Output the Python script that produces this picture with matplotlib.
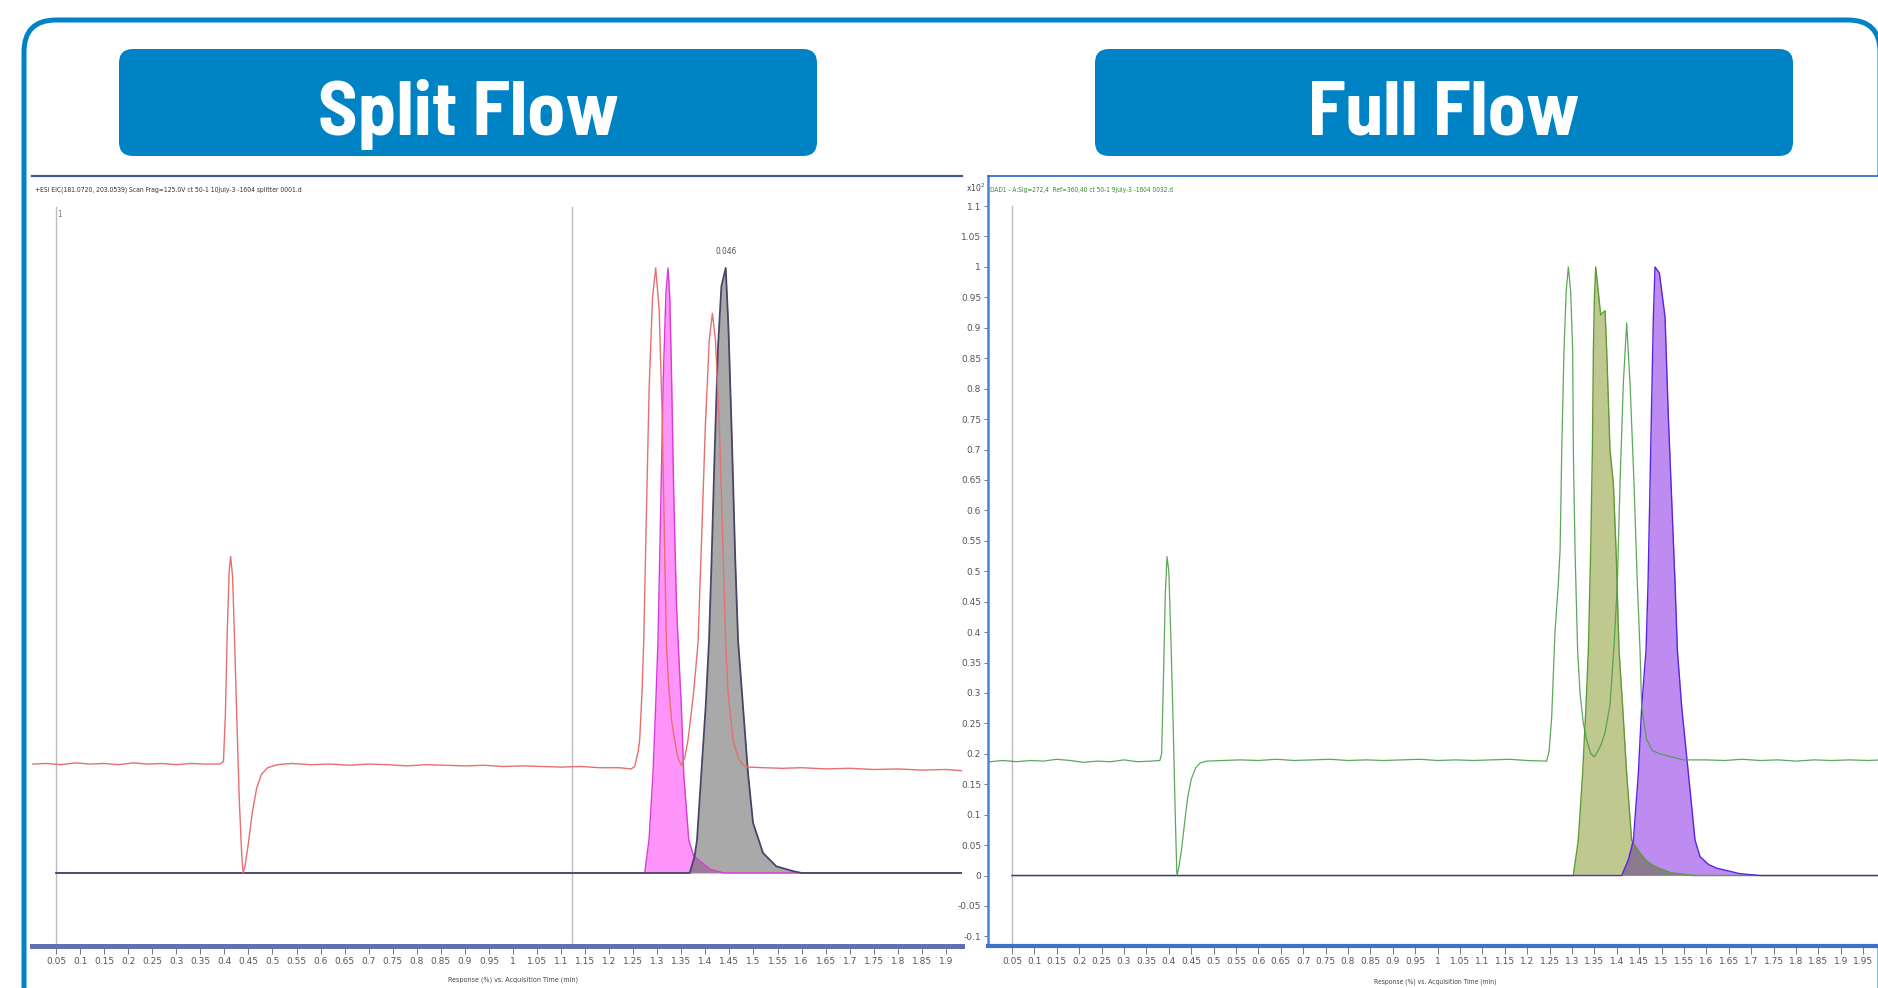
import matplotlib
matplotlib.use("Agg")
import numpy as np
import matplotlib.pyplot as plt
from matplotlib import font_manager
from matplotlib.font_manager import FontProperties
from matplotlib.textpath import TextPath
from matplotlib.patches import FancyBboxPatch
from matplotlib.ticker import FuncFormatter, FixedLocator

W, H = 1878, 988
BLUE = "#0083c4"

# —— 数据 —— #
TITLES = ["Split Flow", "Full Flow"]
LEFT_HEADER = "+ESI EIC(181.0720, 203.0539) Scan Frag=125.0V ct 50-1 10July-3 -1604 splitter 0001.d"
RIGHT_HEADER = "DAD1 - A:Sig=272,4  Ref=360,40 ct 50-1 9July-3 -1604 0032.d"
XLABEL = "Response (%) vs. Acquisition Time (min)"
PEAK_LABEL = "0.046"

# Split Flow: EIC trace (red)
RED_T = [0.0, 0.03, 0.06, 0.09, 0.12, 0.15, 0.18, 0.21, 0.24, 0.27, 0.30, 0.33, 0.36, 0.39,
         0.398, 0.402, 0.406, 0.410, 0.413, 0.417, 0.421, 0.426, 0.431, 0.436, 0.439, 0.443,
         0.450, 0.458, 0.467, 0.477, 0.490, 0.51, 0.54, 0.58, 0.62, 0.66, 0.70, 0.74, 0.78,
         0.82, 0.86, 0.90, 0.94, 0.98, 1.02, 1.06, 1.10, 1.14, 1.18, 1.22,
         1.2461, 1.2530, 1.2600, 1.2634, 1.2683, 1.2717, 1.2770, 1.2830, 1.2900, 1.2967,
         1.3040, 1.3100, 1.3150, 1.3189, 1.3244, 1.3300, 1.3362, 1.3430, 1.3500, 1.3570,
         1.3639, 1.3700, 1.3757, 1.3847, 1.3920, 1.4000, 1.4080, 1.4145, 1.4210, 1.4290,
         1.4360, 1.4422, 1.4470, 1.4574, 1.4680, 1.4782, 1.4900,
         1.52, 1.56, 1.60, 1.65, 1.70, 1.75, 1.80, 1.85, 1.90, 1.935]
RED_V = [0.180, 0.181, 0.179, 0.182, 0.180, 0.181, 0.179, 0.182, 0.180, 0.181, 0.179, 0.181, 0.180, 0.180,
         0.184, 0.26, 0.40, 0.50, 0.523, 0.49, 0.39, 0.25, 0.12, 0.03, 0.0, 0.012,
         0.05, 0.10, 0.14, 0.163, 0.174, 0.179, 0.181, 0.179, 0.180, 0.178, 0.180, 0.179, 0.177,
         0.179, 0.178, 0.177, 0.178, 0.176, 0.177, 0.176, 0.175, 0.176, 0.174, 0.174,
         0.172, 0.176, 0.20, 0.22, 0.30, 0.38, 0.58, 0.80, 0.95, 1.0,
         0.93, 0.76, 0.55, 0.38, 0.30, 0.25, 0.22, 0.19, 0.178, 0.19,
         0.22, 0.26, 0.30, 0.38, 0.55, 0.74, 0.88, 0.925, 0.88, 0.74,
         0.55, 0.38, 0.30, 0.22, 0.19, 0.178, 0.175,
         0.174, 0.173, 0.174, 0.172, 0.173, 0.171, 0.172, 0.170, 0.171, 0.169]

# Split Flow: filled peaks
PINK_T = [0.05, 1.2738, 1.2828, 1.2911, 1.2966, 1.3015, 1.3070, 1.3125, 1.3180, 1.3223, 1.3260,
          1.3292, 1.3341, 1.3396, 1.3431, 1.3500, 1.3549, 1.3653, 1.3757, 1.4103, 1.438, 1.933]
PINK_V = [0.0, 0.0, 0.055, 0.165, 0.275, 0.385, 0.60, 0.82, 0.96, 1.0, 0.95,
          0.84, 0.63, 0.45, 0.385, 0.275, 0.165, 0.055, 0.028, 0.006, 0.0, 0.0]

GREY_T = [0.05, 1.3674, 1.3778, 1.3826, 1.3916, 1.4006, 1.4076, 1.4130, 1.4194, 1.4263, 1.4333,
          1.4423, 1.4480, 1.4550, 1.4620, 1.4679, 1.4782, 1.4886, 1.4990, 1.5198, 1.5475,
          1.5822, 1.60, 1.933]
GREY_V = [0.0, 0.0, 0.028, 0.055, 0.165, 0.275, 0.385, 0.52, 0.70, 0.87, 0.97,
          1.0, 0.90, 0.72, 0.52, 0.385, 0.275, 0.165, 0.083, 0.033, 0.011,
          0.003, 0.0, 0.0]

# Full Flow: DAD trace (light green)
GREEN_T = [0.0, 0.03, 0.06, 0.09, 0.12, 0.15, 0.18, 0.21, 0.24, 0.27, 0.30, 0.33, 0.36, 0.38,
           0.384, 0.388, 0.392, 0.396, 0.400, 0.405, 0.410, 0.414, 0.418, 0.422, 0.428, 0.435,
           0.442, 0.450, 0.460, 0.470, 0.485,
           0.52, 0.56, 0.60, 0.64, 0.68, 0.72, 0.76, 0.80, 0.84, 0.88, 0.92, 0.96, 1.00,
           1.04, 1.08, 1.12, 1.16, 1.20, 1.2434, 1.2490,
           1.2546, 1.2620, 1.2695, 1.2734, 1.2771, 1.2821, 1.2870, 1.2918, 1.2970, 1.3015,
           1.3030, 1.3067, 1.3125, 1.3179, 1.3253, 1.3327, 1.3420, 1.3498, 1.3580, 1.3650,
           1.3737, 1.3848, 1.3940, 1.4012, 1.4071, 1.4146, 1.4220, 1.4295, 1.4384, 1.4458,
           1.4518, 1.4555, 1.4667, 1.4800, 1.4960, 1.5480,
           1.60, 1.64, 1.68, 1.72, 1.76, 1.80, 1.84, 1.88, 1.92, 1.96, 1.99]
GREEN_V = [0.187, 0.189, 0.187, 0.189, 0.188, 0.191, 0.189, 0.186, 0.188, 0.187, 0.190, 0.187, 0.188, 0.189,
           0.20, 0.32, 0.46, 0.524, 0.50, 0.38, 0.24, 0.11, 0.0, 0.012, 0.04, 0.085,
           0.128, 0.158, 0.177, 0.185, 0.188,
           0.189, 0.190, 0.189, 0.191, 0.189, 0.190, 0.191, 0.189, 0.190, 0.189, 0.190, 0.191, 0.189,
           0.190, 0.189, 0.190, 0.191, 0.189, 0.188, 0.205,
           0.26, 0.40, 0.48, 0.535, 0.699, 0.863, 0.96, 1.0, 0.96, 0.863,
           0.699, 0.535, 0.37, 0.30, 0.25, 0.223, 0.20, 0.195, 0.205, 0.215,
           0.235, 0.28, 0.38, 0.48, 0.644, 0.809, 0.908, 0.809, 0.644, 0.48,
           0.37, 0.277, 0.223, 0.205, 0.20, 0.19,
           0.190, 0.189, 0.191, 0.189, 0.190, 0.188, 0.190, 0.189, 0.190, 0.189, 0.190]

# Full Flow: filled peaks
OLIVE_T = [0.05, 1.3029, 1.3140, 1.3237, 1.3311, 1.3365, 1.3417, 1.3455, 1.3477, 1.3500,
           1.3529, 1.3640, 1.3690, 1.3737, 1.3774, 1.3848, 1.3923, 1.3983, 1.4050, 1.4131,
           1.4220, 1.4331, 1.4440, 1.4518, 1.4650, 1.4815, 1.5188, 1.571, 1.99]
OLIVE_V = [0.0, 0.0, 0.058, 0.168, 0.277, 0.37, 0.535, 0.699, 0.863, 0.95,
           1.0, 0.921, 0.925, 0.928, 0.863, 0.699, 0.644, 0.535, 0.37, 0.277,
           0.168, 0.058, 0.045, 0.037, 0.025, 0.016, 0.005, 0.0, 0.0]

PURPLE_T = [0.05, 1.4109, 1.4258, 1.4370, 1.4481, 1.4555, 1.4652, 1.4697, 1.4727, 1.4771,
            1.4816, 1.4853, 1.4950, 1.5076, 1.5150, 1.5240, 1.5300, 1.5352, 1.5448, 1.5597,
            1.5746, 1.5858, 1.6050, 1.6231, 1.6750, 1.72, 1.99]
PURPLE_V = [0.0, 0.0, 0.026, 0.058, 0.168, 0.277, 0.37, 0.48, 0.59, 0.754,
            0.918, 1.0, 0.99, 0.918, 0.754, 0.59, 0.48, 0.37, 0.277, 0.168,
            0.058, 0.031, 0.018, 0.012, 0.003, 0.0, 0.0]

MARKER_T = [0.05, 1.123]          # 竖直标记线
LEFT_TICKS = [round(0.05 * k, 2) for k in range(1, 39)]
RIGHT_XTICKS = [round(0.05 * k, 2) for k in range(1, 40)]
RIGHT_YTICKS = [round(0.05 * k, 2) for k in range(-2, 23)]

TITLE_W = 302        # 目标标题宽度（像素）
TITLE_PT = 55


# —— 字体：找一个窄体/压缩体（排除等宽） —— #
_STRETCH = {"ultra-condensed": 100, "extra-condensed": 200, "condensed": 300,
            "semi-condensed": 400, "normal": 500}


def _stretch_val(s):
    if isinstance(s, (int, float)):
        return s
    return _STRETCH.get(str(s), 500)


def _weight_val(w):
    if isinstance(w, (int, float)):
        return w
    return {"bold": 700, "heavy": 800, "black": 900, "semibold": 600,
            "demibold": 600, "normal": 400, "regular": 400}.get(str(w), 400)


def _ink_w(text, fname, size=100):
    return TextPath((0, 0), text, size=size, prop=FontProperties(fname=fname)).get_extents().width


def _is_narrow(f):
    low = (f.name + " " + f.fname).lower()
    if any(k in low for k in ["mono", "serif", "cjk", "code", "courier"]) or f.style != "normal":
        return False
    if not ("narrow" in low or "condensed" in low or "cond" in low
            or _stretch_val(f.stretch) <= 400):
        return False
    try:   # 等宽字体：i 和 M 一样宽
        if _ink_w("iiiiii", f.fname) > 0.6 * _ink_w("MMMMMM", f.fname):
            return False
    except Exception:
        return False
    return True


_NARROW = [f for f in font_manager.fontManager.ttflist if _is_narrow(f)]


def _pick_regular():
    best, best_score = None, None
    for f in _NARROW:
        score = abs(_weight_val(f.weight) - 400) + abs(_stretch_val(f.stretch) - 300) * 0.2
        if best_score is None or score < best_score:
            best, best_score = f, score
    return best


def _pick_title():
    # 选宽度最接近目标的粗体窄字体
    best, best_score = None, None
    em = TITLE_PT * 100 / 72
    for f in _NARROW:
        if _weight_val(f.weight) < 600:
            continue
        w = _ink_w(TITLES[0], f.fname, em)
        score = abs(w - TITLE_W) + abs(_weight_val(f.weight) - 700) * 0.1
        if best_score is None or score < best_score:
            best, best_score = (f, w), score
    return best


_ft, _fr = _pick_title(), _pick_regular()
if _ft:
    TITLE_FP = FontProperties(fname=_ft[0].fname)
    _wt = _ft[1]
else:
    TITLE_FP = FontProperties(family="DejaVu Sans", weight="bold")
    _wt = TextPath((0, 0), TITLES[0], size=TITLE_PT * 100 / 72, prop=TITLE_FP).get_extents().width
TITLE_SIZE = TITLE_PT * min(1.0, (TITLE_W / _wt) ** 0.6)
SMALL_FP = FontProperties(fname=_fr.fname) if _fr else FontProperties(family="DejaVu Sans")
if _fr:
    plt.rcParams["font.family"] = [_fr.name, "DejaVu Sans"]


def _fmt(v, pos=None):
    return f"{round(v, 2):g}"


def _small(size):
    fp = SMALL_FP.copy(); fp.set_size(size)
    return fp


fig = plt.figure(figsize=(W / 100, H / 100), dpi=100)

# —— 背景：外框 + 标题块（像素坐标） —— #
bg = fig.add_axes([0, 0, 1, 1], zorder=0)
bg.set_xlim(0, W); bg.set_ylim(0, H); bg.axis("off")
bg.add_patch(FancyBboxPatch((24, -60), 1880 - 24, 968 + 60,
                            boxstyle="round,pad=0,rounding_size=32",
                            fc="white", ec=BLUE, lw=3.6))
for x0, title in zip([119, 1095], TITLES):
    bg.add_patch(FancyBboxPatch((x0, 832), 698, 107,
                                boxstyle="round,pad=0,rounding_size=14",
                                fc=BLUE, ec="none"))
    fp = TITLE_FP.copy(); fp.set_size(TITLE_SIZE)
    bg.text(x0 + 349, 853, title, ha="center", va="baseline",
            fontproperties=fp, color="white")

fig.text(35 / W, 798 / H, LEFT_HEADER, ha="left", va="center",
         fontproperties=_small(4.9), color="#333333", zorder=10)
fig.text(990 / W, 798 / H, RIGHT_HEADER, ha="left", va="center",
         fontproperties=_small(4.7), color="#2e8b2e", zorder=10)
fig.text(985 / W, 800 / H, r"x10$^{2}$", ha="right", va="center",
         fontsize=5.5, color="#444444", zorder=10)
fig.text(513 / W, 8 / H, XLABEL, ha="center", va="center",
         fontproperties=_small(5.1), color="#444444", zorder=10)
fig.text(1435 / W, 6 / H, XLABEL, ha="center", va="center",
         fontproperties=_small(4.9), color="#444444", zorder=10)

# —— 左图：Split Flow —— #
axL = fig.add_axes([32 / W, 42 / H, 930 / W, 770 / H], zorder=2)
axL.set_xlim(0, 1.9335); axL.set_ylim(-0.1207, 1.152)
for tm in MARKER_T:
    axL.plot([tm, tm], [-0.2, 1.10], color="#bdbdbd", lw=1.0, zorder=1)
pink = axL.fill_between(PINK_T, PINK_V, color="#ff94fa", lw=0, zorder=2)
grey = axL.fill_between(GREY_T, GREY_V, color="#a9a9a9", lw=0, zorder=2)
ov = axL.fill_between(PINK_T, PINK_V, color="#9c7a9c", lw=0, zorder=2.1)
ov.set_clip_path(grey.get_paths()[0], axL.transData)
axL.plot(PINK_T, PINK_V, color="#d93bd6", lw=1.0, zorder=3)
axL.plot(GREY_T, GREY_V, color="#4b4468", lw=1.3, zorder=3)
axL.plot(RED_T, RED_V, color="#e6706f", lw=1.0, zorder=4)
axL.text(0.053, 1.088, "1", fontproperties=_small(5.5), color="#777777", ha="left", va="center")
axL.text(GREY_T[GREY_V.index(max(GREY_V))], 1.02, PEAK_LABEL, fontproperties=_small(6),
         color="#555555", ha="center", va="bottom")

axL.set_yticks([])
axL.xaxis.set_major_locator(FixedLocator(LEFT_TICKS))
axL.xaxis.set_major_formatter(FuncFormatter(_fmt))
axL.tick_params(axis="x", direction="out", length=6, width=0.7, color="#777777",
                labelsize=6.5, labelcolor="#555555", pad=2)
for s in ["left", "right"]:
    axL.spines[s].set_visible(False)
axL.spines["top"].set_color("#3f5c9e"); axL.spines["top"].set_linewidth(1.6)
axL.spines["bottom"].set_color("#5f70b5"); axL.spines["bottom"].set_linewidth(3.6)

# —— 右图：Full Flow —— #
axR = fig.add_axes([988 / W, 42 / H, 890 / W, 770 / H], zorder=2)
axR.set_xlim(-0.0036, 1.983); axR.set_ylim(-0.1158, 1.1494)
axR.plot([MARKER_T[0], MARKER_T[0]], [-0.2, 1.10], color="#bdbdbd", lw=1.0, zorder=1)
olive = axR.fill_between(OLIVE_T, OLIVE_V, color="#bfc98f", lw=0, zorder=2)
purple = axR.fill_between(PURPLE_T, PURPLE_V, color="#be8cf0", lw=0, zorder=2)
ov2 = axR.fill_between(OLIVE_T, OLIVE_V, color="#8a7a90", lw=0, zorder=2.1)
ov2.set_clip_path(purple.get_paths()[0], axR.transData)
axR.plot(OLIVE_T, OLIVE_V, color="#5d9b34", lw=1.0, zorder=3)
axR.plot(PURPLE_T, PURPLE_V, color="#5a25e0", lw=1.0, zorder=3)
axR.plot(GREEN_T, GREEN_V, color="#4a9e4a", lw=0.9, alpha=0.9, zorder=4)

axR.xaxis.set_major_locator(FixedLocator(RIGHT_XTICKS))
axR.xaxis.set_major_formatter(FuncFormatter(_fmt))
axR.yaxis.set_major_locator(FixedLocator(RIGHT_YTICKS))
axR.yaxis.set_major_formatter(FuncFormatter(_fmt))
axR.tick_params(axis="both", direction="out", width=0.7, color="#777777",
                labelsize=6.5, labelcolor="#555555", pad=2)
axR.tick_params(axis="x", length=6)
axR.tick_params(axis="y", length=3)
axR.spines["right"].set_visible(False)
axR.spines["left"].set_color("#4a84d4"); axR.spines["left"].set_linewidth(1.8)
axR.spines["top"].set_color("#3a6fc6"); axR.spines["top"].set_linewidth(1.3)
axR.spines["bottom"].set_color("#3f72c9"); axR.spines["bottom"].set_linewidth(3.0)

fig.savefig("out.png", dpi=100)
plt.close(fig)
